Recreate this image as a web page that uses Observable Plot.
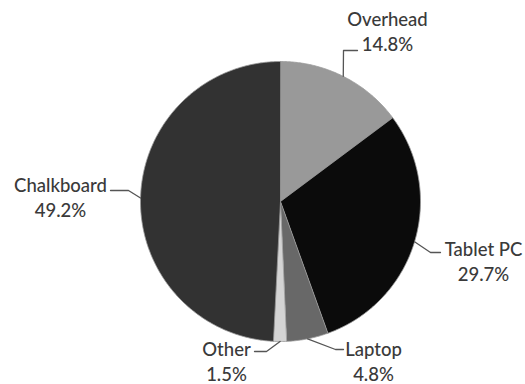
<!DOCTYPE html>
<html>
<head>
<meta charset="utf-8">
<script src="https://cdn.jsdelivr.net/npm/d3@7"></script>
<script src="https://cdn.jsdelivr.net/npm/@observablehq/plot@0.6"></script>
<style>
  html, body { margin: 0; padding: 0; background: #fff; }
</style>
</head>
<body>
<div id="chart"></div>
<script>
// ---- data ----
const categories = ["Overhead", "Tablet PC", "Laptop", "Other", "Chalkboard"];
const shares = [14.8, 29.7, 4.8, 1.5, 49.2];
const colors = ["#999999", "#0b0b0b", "#686868", "#d4d4d4", "#323232"];

// ---- layout (pixel units of a 525x384 frame) ----
const pie = {cx: 280, cy: 201, r: 140};
const labelCenter = [[387, 30], [483, 260], [373, 360], [226, 360], [60, 196]];
const leaderElbow = [[343, 50], [430, 252], [335, 349], [266, 351], [128, 190]];
const leaderEnd = [[357, 50], [440, 252], [343, 349], [254, 351], [110, 190]];

const arcs = d3.pie().sort(null).value(d => d)(shares);
const polar = (a, rr = pie.r) => [pie.cx + rr * Math.sin(a), pie.cy - rr * Math.cos(a)];

const slicePts = [];
arcs.forEach((a, i) => {
  const n = Math.max(2, Math.ceil((a.endAngle - a.startAngle) / 0.01));
  slicePts.push({k: categories[i], x: pie.cx, y: pie.cy});
  for (let j = 0; j <= n; j++) {
    const [x, y] = polar(a.startAngle + (a.endAngle - a.startAngle) * j / n);
    slicePts.push({k: categories[i], x, y});
  }
});

const leaderPts = [];
arcs.forEach((a, i) => {
  const mid = (a.startAngle + a.endAngle) / 2;
  const [x0, y0] = polar(mid);
  leaderPts.push({k: categories[i], x: x0, y: y0});
  leaderPts.push({k: categories[i], x: leaderElbow[i][0], y: leaderElbow[i][1]});
  leaderPts.push({k: categories[i], x: leaderEnd[i][0], y: leaderEnd[i][1]});
});

const labels = categories.map((c, i) => ({
  text: `${c}\n${shares[i].toFixed(1)}%`,
  x: labelCenter[i][0], y: labelCenter[i][1]
}));

const chart = Plot.plot({
  width: 525,
  height: 384,
  margin: 0,
  style: {background: "#fff"},
  x: {domain: [0, 525], range: [0, 525], axis: null},
  y: {domain: [0, 384], range: [0, 384], axis: null},
  color: {domain: categories, range: colors},
  marks: [
    Plot.line(slicePts, {x: "x", y: "y", z: "k", fill: "k", stroke: "#9a9a9a", strokeWidth: 0.8, curve: "linear-closed"}),
    Plot.line(leaderPts, {x: "x", y: "y", z: "k", stroke: "#555", strokeWidth: 1.3}),
    Plot.text(labels, {x: "x", y: "y", text: "text", fontSize: 18.5, fontFamily: "Lato", fontWeight: 500, fill: "#3a3a3a", lineHeight: 1.36, textAnchor: "middle"})
  ]
});
document.getElementById("chart").appendChild(chart);
</script>
</body>
</html>
